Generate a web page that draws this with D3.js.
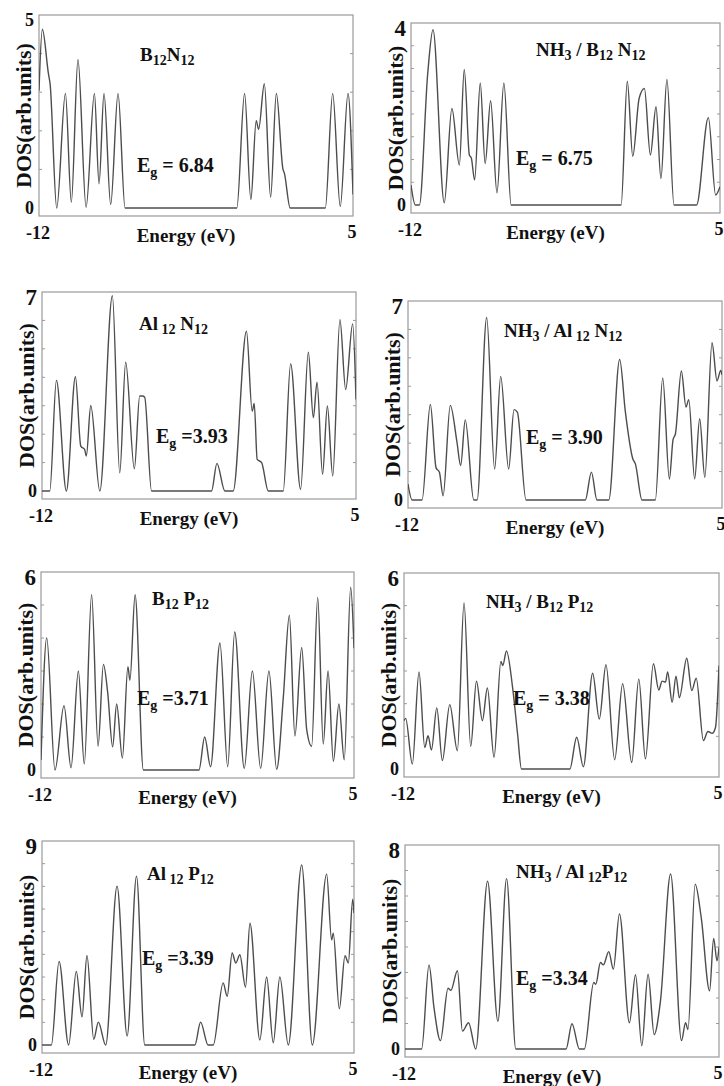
<!DOCTYPE html>
<html>
<head>
<meta charset="utf-8">
<script src="https://cdn.jsdelivr.net/npm/d3@7/dist/d3.min.js"></script>
<style>
  body { margin: 0; background: #fff; }
  svg text { font-family: "Liberation Serif", "Times New Roman", serif; font-weight: bold; fill: #111; white-space: pre; }
</style>
</head>
<body>
<svg id="fig" width="724" height="1086"></svg>
<script>
// energies (eV) and DOS values
const bnE = [-12.0, -11.82, -11.49, -11.40, -11.04, -10.57, -10.25, -9.89, -9.45, -9.00, -8.75, -8.48, -8.12, -7.72, -7.34, -1.29, -0.87, -0.53, -0.24, -0.11, 0.20, 0.54, 0.85, 1.21, 1.28, 1.60, 3.50, 3.90, 4.31, 4.73, 5.0]
const bnDos = [3.04, 4.63, 3.48, 3.22, 0, 2.97, 0.15, 3.84, 0.02, 2.97, 0.63, 2.97, 0.09, 2.97, 0, 0, 2.97, 0.22, 2.26, 2.04, 3.22, 0.28, 2.97, 1.0, 0.91, 0, 0, 2.97, 0.04, 2.97, 0.35]

const nh3bnE = [-12, -11.76, -11.54, -11.08, -10.79, -10.17, -9.75, -9.34, -9.07, -8.79, -8.68, -8.50, -8.19, -7.92, -7.62, -7.27, -6.89, -6.49, -0.44, -0.10, 0.20, 0.55, 0.84, 1.17, 1.48, 1.75, 2.08, 2.47, 3.71, 4.36, 4.76, 5.0]
const nh3bnDos = [0.44, 0, 0, 2.89, 3.85, 0.05, 2.12, 0.88, 2.98, 1.1, 1.03, 0.55, 2.68, 0.91, 2.29, 0.27, 2.68, 0, 0, 2.72, 1.07, 2.34, 2.56, 1.1, 2.16, 0.58, 2.76, 0, 0, 1.92, 0.22, 0.4]

const alnE = [-12, -11.58, -11.22, -10.68, -10.19, -9.90, -9.69, -9.60, -9.36, -8.87, -8.19, -7.79, -7.47, -7.00, -6.71, -6.56, -6.44, -6.07, -2.82, -2.53, -2.10, -1.65, -0.93, -0.62, -0.51, -0.35, -0.11, 0.25, 1.06, 1.46, 2.00, 2.42, 2.69, 2.89, 3.19, 3.45, 3.74, 4.13, 4.44, 4.82, 5.0]
const alnDos = [0, 0, 3.89, 0, 4.02, 1.58, 1.46, 1.23, 3.01, 0, 6.87, 0.64, 4.53, 0.78, 3.34, 3.34, 3.3, 0, 0, 0.97, 0, 0, 5.62, 2.81, 3.08, 1.11, 1.0, 0, 0, 4.47, 0.06, 4.88, 2.58, 3.83, 0.59, 2.99, 0.53, 6.03, 3.57, 5.88, 3.22]

const nh3alnE = [-12, -11.78, -11.24, -10.79, -10.48, -10.30, -10.10, -9.71, -9.35, -9.15, -8.90, -8.44, -8.26, -7.74, -7.31, -6.98, -6.55, -6.26, -6.08, -5.61, -2.40, -2.07, -1.77, -1.13, -0.54, -0.23, 0.17, 0.31, 0.67, 1.39, 1.79, 2.15, 2.35, 2.48, 2.80, 3.05, 3.20, 3.52, 3.79, 4.07, 4.46, 4.73, 4.93, 5.0]
const nh3alnDos = [0.56, 0, 0, 3.36, 1.13, 0.98, 0.15, 3.33, 2.04, 1.21, 2.82, 0, 0, 6.42, 1.09, 4.35, 1.09, 3.18, 3.09, 0, 0, 0.98, 0, 0, 4.94, 3.09, 1.45, 1.27, 0, 0, 4.29, 0.74, 2.12, 2.33, 4.54, 3.27, 3.53, 0.74, 2.86, 0.80, 5.53, 4.19, 4.56, 4.4]

const bpE = [-12, -11.69, -11.24, -10.75, -10.37, -9.97, -9.65, -9.25, -8.90, -8.61, -8.38, -8.11, -7.89, -7.58, -7.28, -7.17, -6.89, -6.44, -3.42, -3.11, -2.79, -2.28, -1.86, -1.48, -0.96, -0.52, -0.07, 0.38, 0.80, 1.16, 1.49, 1.79, 2.16, 2.43, 2.70, 3.03, 3.33, 3.59, 3.88, 4.18, 4.47, 4.82, 5.0]
const bpDos = [0.3, 4.0, 0, 1.95, 0.07, 3.0, 0.18, 5.31, 0.72, 3.2, 2.36, 0.7, 2.0, 0.36, 3.13, 2.72, 5.31, 0, 0, 1.0, 0.1, 3.85, 0.1, 4.18, 0.05, 3.0, 0.05, 3.0, 0.02, 2.2, 4.69, 1.03, 3.71, 1.23, 0.72, 5.23, 0.79, 3.0, 0.26, 2.0, 0.31, 5.54, 3.69]

const nh3bpE = [-12, -11.91, -11.55, -11.19, -10.88, -10.70, -10.52, -10.23, -9.93, -9.53, -9.12, -8.76, -8.40, -8.09, -7.77, -7.50, -7.14, -6.77, -6.67, -6.47, -6.14, -5.87, -5.66, -3.05, -2.68, -2.32, -1.82, -1.46, -1.10, -0.63, -0.20, 0.29, 0.67, 1.03, 1.46, 1.75, 1.93, 2.11, 2.23, 2.47, 2.68, 2.86, 3.26, 3.53, 3.77, 4.16, 4.40, 4.63, 4.81, 5.0]
const nh3bpDos = [1.48, 1.55, 0.15, 2.97, 0.66, 1.02, 0.58, 1.87, 0.26, 1.97, 0.56, 5.08, 0.69, 2.69, 1.48, 2.48, 0.36, 3.29, 3.17, 3.61, 2.5, 1.07, 0, 0, 0.97, 0.07, 2.93, 1.53, 3.19, 0.28, 2.61, 0.2, 2.76, 0.31, 3.22, 2.42, 2.69, 2.66, 2.97, 2.04, 2.84, 2.18, 3.39, 2.4, 2.78, 0.87, 1.15, 1.09, 1.27, 3.17]

const alpE = [-12, -11.49, -11.07, -10.55, -10.13, -9.82, -9.55, -9.18, -8.93, -8.53, -7.91, -7.36, -6.85, -6.40, -3.67, -3.36, -2.95, -2.67, -2.13, -1.91, -1.64, -1.44, -1.22, -0.91, -0.67, -0.13, 0.24, 0.60, 0.96, 1.42, 2.15, 2.73, 3.51, 3.78, 3.87, 4.20, 4.51, 4.69, 4.93, 5.0]
const alpDos = [0, 0, 3.69, 0, 3.25, 1.24, 3.95, 0.25, 1.01, 0, 7.01, 0.4, 7.45, 0, 0, 1.01, 0, 0, 2.74, 2.15, 4.06, 3.62, 3.98, 2.55, 5.37, 0.22, 3.0, 0.1, 3.0, 0, 7.94, 0, 7.54, 4.64, 4.93, 1.6, 3.94, 3.62, 6.43, 5.81]

const nh3alpE = [-12, -11.10, -10.70, -10.43, -10.08, -9.67, -9.52, -9.16, -8.89, -8.56, -8.17, -7.53, -6.97, -6.50, -6.00, -3.28, -2.96, -2.56, -2.29, -1.78, -1.67, -1.42, -1.26, -0.97, -0.72, -0.39, 0.15, 0.48, 0.82, 1.16, 1.49, 1.83, 2.38, 2.97, 3.19, 3.32, 3.71, 4.04, 4.49, 4.71, 4.89, 5.0]
const nh3alpDos = [0, 0, 3.30, 1.62, 0.33, 2.38, 2.30, 3.07, 0.7, 1.03, 0, 6.58, 1.09, 6.68, 0, 0, 0.99, 0, 0, 2.61, 2.54, 3.39, 3.30, 3.82, 3.13, 5.3, 1.03, 2.91, 0.13, 2.93, 0.57, 1.88, 6.86, 0.33, 1.03, 0.76, 6.46, 5.14, 2.28, 4.34, 3.46, 3.99]

// axis top values and minor tick step
const yMaxes = [5, 4, 7, 7, 6, 6, 9, 8]
const yTickSteps = [1, 0.5, 1, 1, 1, 1, 1, 1]
const xTickLabels = ["-12", "5"]
const xDomain = [-12, 5]

// titles: [text, subscript?]
const titles = [
  [["B", 0], ["12", 1], ["N", 0], ["12", 1]],
  [["NH", 0], ["3", 1], [" / B", 0], ["12", 1], [" N", 0], ["12", 1]],
  [["Al", 0], [" 12", 1], [" N", 0], ["12", 1]],
  [["NH", 0], ["3", 1], [" / Al", 0], [" 12", 1], [" N", 0], ["12", 1]],
  [["B", 0], ["12", 1], [" P", 0], ["12", 1]],
  [["NH", 0], ["3", 1], [" / B", 0], ["12", 1], [" P", 0], ["12", 1]],
  [["Al", 0], [" 12", 1], [" P", 0], ["12", 1]],
  [["NH", 0], ["3", 1], [" / Al", 0], [" 12", 1], ["P", 0], ["12", 1]]
]
const gapLabels = [" = 6.84", " = 6.75", " =3.93", " = 3.90", " =3.71", " = 3.38", " =3.39", " =3.34"]

const series = [
  [bnE, bnDos], [nh3bnE, nh3bnDos], [alnE, alnDos], [nh3alnE, nh3alnDos],
  [bpE, bpDos], [nh3bpE, nh3bpDos], [alpE, alpDos], [nh3alpE, nh3alpDos]
]

// panel geometry: box [left, top, right, bottom], title and gap label anchors
const layout = [
  { box: [39, 15, 353, 216], title: [140, 61], eg: [137, 172] },
  { box: [411, 23, 720, 213], title: [536, 56], eg: [516, 165] },
  { box: [42, 292, 356, 499], title: [139, 330], eg: [156, 443] },
  { box: [408, 301, 722, 508], title: [504, 337], eg: [526, 444] },
  { box: [41, 572, 354, 778], title: [152, 605], eg: [137, 705] },
  { box: [404, 573, 719, 777], title: [486, 608], eg: [513, 705] },
  { box: [42, 841, 354, 1053], title: [147, 880], eg: [142, 965] },
  { box: [405, 845, 719, 1057], title: [516, 878], eg: [516, 985] }
]

const svg = d3.select('#fig')

function richText(g, x, y, parts, size, subSize, shift) {
  const t = g.append('text').attr('x', x).attr('y', y).style('font-size', size + 'px')
  let down = false
  parts.forEach(([s, sub]) => {
    const sp = t.append('tspan').text(s)
    if (sub) {
      sp.style('font-size', subSize + 'px')
      if (!down) { sp.attr('dy', shift); down = true }
    } else if (down) {
      sp.attr('dy', -shift); down = false
    }
  })
  return t
}

series.forEach(([energies, dos], i) => {
  const [L, T, R, B] = layout[i].box
  const g = svg.append('g')

  const x = d3.scaleLinear().domain(xDomain).range([L, R])
  const y = d3.scaleLinear().domain([0, yMaxes[i]]).range([B - 8, T])

  g.append('clipPath').attr('id', 'clip' + i)
    .append('rect').attr('x', L).attr('y', T).attr('width', R - L).attr('height', B - T)

  // frame
  g.append('rect')
    .attr('x', L).attr('y', T).attr('width', R - L).attr('height', B - T)
    .attr('fill', 'none').attr('stroke', '#9a9a9a').attr('stroke-width', 1.2)

  // minor ticks inside left & right edges
  const ticks = d3.range(yTickSteps[i], yMaxes[i] - 1e-6, yTickSteps[i])
  g.selectAll('.tl').data(ticks).enter().append('line')
    .attr('x1', L).attr('x2', L + 3).attr('y1', d => y(d)).attr('y2', d => y(d))
    .attr('stroke', '#9a9a9a')
  g.selectAll('.tr').data(ticks).enter().append('line')
    .attr('x1', R - 3).attr('x2', R).attr('y1', d => y(d)).attr('y2', d => y(d))
    .attr('stroke', '#9a9a9a')

  const pts = energies.map((e, k) => [e, dos[k]])
  const line = d3.line()
    .x(d => x(d[0]))
    .y(d => y(d[1]))
    .curve(d3.curveMonotoneX)

  g.append('path')
    .attr('clip-path', `url(#clip${i})`)
    .attr('d', line(pts))
    .attr('fill', 'none')
    .attr('stroke', '#4d4d4d')
    .attr('stroke-width', 1.4)

  // y tick labels (0 and max)
  g.append('text').attr('x', L - 5).attr('y', y(yMaxes[i]) + (i == 0 ? 11 : 13))
    .attr('text-anchor', 'end').style('font-size', i == 0 ? '18px' : '23px').text(yMaxes[i])
  g.append('text').attr('x', L - 5).attr('y', y(0) + 6)
    .attr('text-anchor', 'end').style('font-size', '18px').text('0')

  // x tick labels
  g.append('text').attr('x', x(xDomain[0]) - 1).attr('y', B + 23)
    .attr('text-anchor', 'middle').style('font-size', '18px').text(xTickLabels[0])
  g.append('text').attr('x', x(xDomain[1]) - 1).attr('y', B + 22)
    .attr('text-anchor', 'middle').style('font-size', '18px').text(xTickLabels[1])

  // axis titles
  g.append('text').attr('x', (L + R) / 2 - 10).attr('y', B + 26)
    .attr('text-anchor', 'middle').style('font-size', '19px').text('Energy (eV)')
  g.append('text')
    .attr('transform', `translate(${L - 16},${(T + B) / 2}) rotate(-90)`)
    .attr('text-anchor', 'middle').attr('dominant-baseline', 'central')
    .style('font-size', '22px').text('DOS(arb.units)')

  // compound name
  richText(g, layout[i].title[0], layout[i].title[1], titles[i], 19, 14, 4)

  // band gap label
  richText(g, layout[i].eg[0], layout[i].eg[1], [['E', 0], ['g', 1], [gapLabels[i], 0]], 20, 14, 5)
})
</script>
</body>
</html>
